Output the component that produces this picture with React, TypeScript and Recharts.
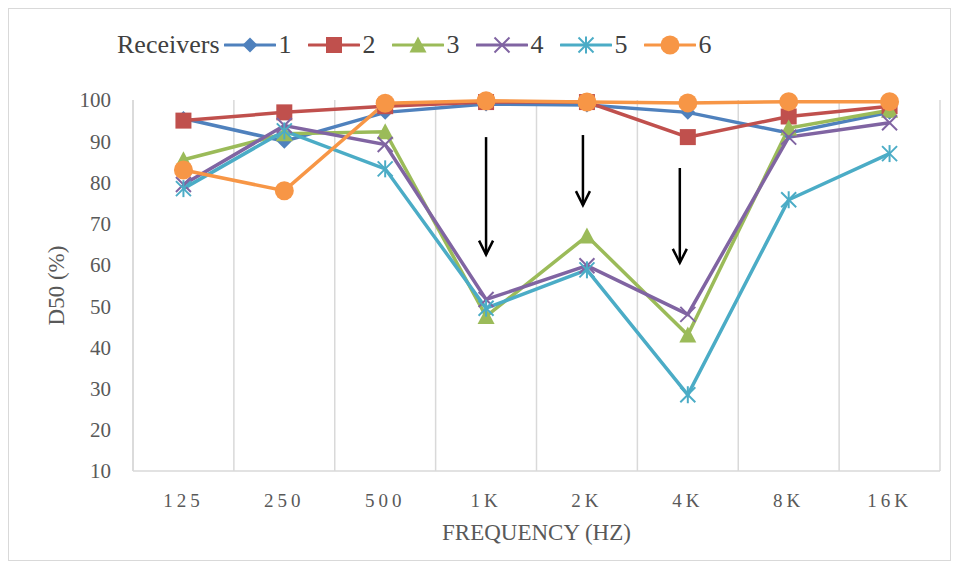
import React from "react";
import {
  LineChart,
  Line,
  XAxis,
  YAxis,
  CartesianGrid,
  ReferenceLine,
} from "recharts";

const frequencies = ["125", "250", "500", "1K", "2K", "4K", "8K", "16K"];

const receiver1 = [95.5, 90, 97, 99, 98.8, 97, 92, 97];
const receiver2 = [95, 97, 98.5, 99.5, 99.5, 91, 96, 98.5];
const receiver3 = [85.5, 91.8, 92.3, 47.5, 67, 43, 93.2, 97.5];
const receiver4 = [79.5, 93.8, 89.2, 51.6, 59.8, 48, 91, 94.5];
const receiver5 = [78.5, 92.5, 83.3, 49.5, 58.8, 28.5, 75.8, 87];
const receiver6 = [83, 78, 99.2, 99.8, 99.5, 99.3, 99.6, 99.6];

const yTicks = [10, 20, 30, 40, 50, 60, 70, 80, 90, 100];

// annotation arrows: where each one sits and its start / tip value
const arrowAt = ["1K", "2K", "4K"];
const arrowFrom = [91, 91.5, 83.5];
const arrowTo = [62.5, 74.5, 60.5];

const series = [
  { key: "r1", name: "1", color: "#4F81BD", marker: "diamond", values: receiver1 },
  { key: "r2", name: "2", color: "#C0504D", marker: "square", values: receiver2 },
  { key: "r3", name: "3", color: "#9BBB59", marker: "triangle", values: receiver3 },
  { key: "r4", name: "4", color: "#8064A2", marker: "cross", values: receiver4 },
  { key: "r5", name: "5", color: "#4BACC6", marker: "star", values: receiver5 },
  { key: "r6", name: "6", color: "#F79646", marker: "circle", values: receiver6 },
];

const data = frequencies.map((f, i) => {
  const row: any = { freq: f };
  series.forEach((s) => (row[s.key] = s.values[i]));
  return row;
});

const FONT = "'Liberation Serif', 'Times New Roman', serif";

const Marker = ({ cx, cy, type, color }: any) => {
  if (cx == null || cy == null) return null;
  if (type === "diamond") {
    const r = 7.5;
    return <polygon points={`${cx},${cy - r} ${cx + r},${cy} ${cx},${cy + r} ${cx - r},${cy}`} fill={color} />;
  }
  if (type === "square") {
    return <rect x={cx - 8} y={cy - 8} width={16} height={16} fill={color} />;
  }
  if (type === "triangle") {
    return <polygon points={`${cx},${cy - 8.5} ${cx + 8.5},${cy + 7.5} ${cx - 8.5},${cy + 7.5}`} fill={color} />;
  }
  if (type === "cross") {
    const r = 7.5;
    return (
      <g stroke={color} strokeWidth={2}>
        <line x1={cx - r} y1={cy - r} x2={cx + r} y2={cy + r} />
        <line x1={cx - r} y1={cy + r} x2={cx + r} y2={cy - r} />
      </g>
    );
  }
  if (type === "star") {
    const r = 7.5;
    return (
      <g stroke={color} strokeWidth={2}>
        <line x1={cx - r} y1={cy - r} x2={cx + r} y2={cy + r} />
        <line x1={cx - r} y1={cy + r} x2={cx + r} y2={cy - r} />
        <line x1={cx} y1={cy - r - 1} x2={cx} y2={cy + r + 1} />
      </g>
    );
  }
  return <circle cx={cx} cy={cy} r={9.5} fill={color} />;
};

const Arrow = (props: any) => {
  const { x1, y1, y2 } = props;
  if (x1 == null) return null;
  const x = x1 - (props.shift || 0);
  return (
    <g stroke="#000" strokeWidth={2.5} fill="none">
      <line x1={x} y1={y1} x2={x} y2={y2} />
      <polyline points={`${x - 7},${y2 - 14} ${x},${y2} ${x + 7},${y2 - 14}`} />
    </g>
  );
};

const Legend = () => (
  <div
    style={{
      position: "absolute",
      left: 108,
      top: 21,
      display: "flex",
      alignItems: "center",
      fontFamily: FONT,
      fontSize: 26,
      color: "#404040",
      whiteSpace: "nowrap",
    }}
  >
    <span style={{ marginRight: 4 }}>Receivers</span>
    {series.map((s) => (
      <span key={s.key} style={{ display: "flex", alignItems: "center", marginRight: 16 }}>
        <svg width={52} height={22}>
          <line x1={1} y1={11} x2={51} y2={11} stroke={s.color} strokeWidth={3} strokeLinecap="round" />
          <Marker cx={26} cy={11} type={s.marker} color={s.color} />
        </svg>
        <span style={{ marginLeft: 3 }}>{s.name}</span>
      </span>
    ))}
  </div>
);

const App = () => {
  return (
    <div
      style={{
        position: "relative",
        width: 943,
        height: 553,
        border: "1px solid #d9d9d9",
        boxSizing: "border-box",
        background: "#fff",
      }}
    >
      <Legend />
      <LineChart
        width={943}
        height={553}
        data={data}
        margin={{ top: 92, right: 11, left: 0, bottom: 0 }}
        style={{ fontFamily: FONT, position: "absolute", left: -1, top: -1 }}
      >
        <CartesianGrid
          horizontal={false}
          stroke="#d9d9d9"
          strokeWidth={1.5}
          verticalCoordinatesGenerator={({ offset }: any) =>
            frequencies.map((_, i) => offset.left + (i * offset.width) / frequencies.length).concat([offset.left + offset.width])
          }
        />
        <XAxis
          dataKey="freq"
          scale="band"
          height={90}
          tickLine={false}
          axisLine={{ stroke: "#d9d9d9", strokeWidth: 1.5 }}
          tickMargin={17}
          tick={{ fill: "#595959", fontSize: 19, letterSpacing: 4 }}
          label={{
            value: "FREQUENCY (HZ)",
            position: "insideBottom",
            offset: 21,
            fill: "#595959",
            fontSize: 23,
          }}
        />
        <YAxis
          width={125}
          domain={[10, 100]}
          ticks={yTicks}
          interval={0}
          tickLine={false}
          axisLine={{ stroke: "#d9d9d9", strokeWidth: 1.5 }}
          tickMargin={16}
          tick={{ fill: "#595959", fontSize: 21 }}
          label={{
            value: "D50 (%)",
            angle: -90,
            position: "center",
            dx: -15,
            fill: "#595959",
            fontSize: 23,
          }}
        />
        {series.map((s) => (
          <Line
            key={s.key}
            dataKey={s.key}
            name={s.name}
            stroke={s.color}
            strokeWidth={3.5}
            isAnimationActive={false}
            dot={(p: any) => <Marker key={`${s.key}-${p.index}`} cx={p.cx} cy={p.cy} type={s.marker} color={s.color} />}
            activeDot={false}
          />
        ))}
        {arrowAt.map((f, i) => (
          <ReferenceLine
            key={f}
            segment={[
              { x: f, y: arrowFrom[i] },
              { x: f, y: arrowTo[i] },
            ]}
            ifOverflow="visible"
            shape={(p: any) => <Arrow {...p} shift={i * 4} />}
          />
        ))}
      </LineChart>
    </div>
  );
};

export default App;
